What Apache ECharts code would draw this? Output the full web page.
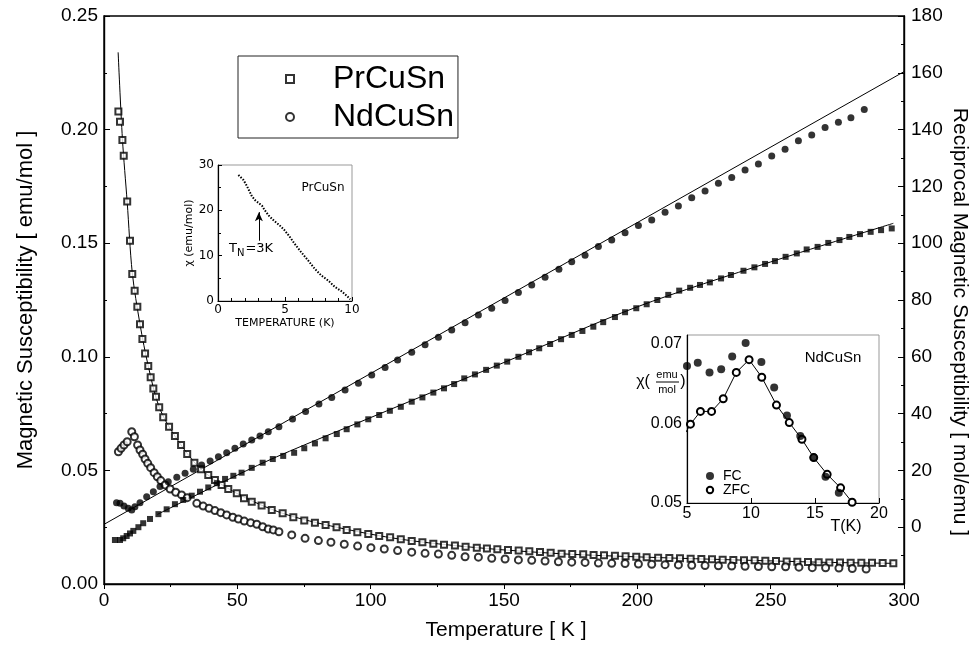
<!DOCTYPE html>
<html>
<head>
<meta charset="utf-8">
<style>
  html, body { margin: 0; padding: 0; background: #fff; }
  #main { width: 975px; height: 649px; }
</style>
</head>
<body>
<div id="main"></div>
<script src="https://cdn.jsdelivr.net/npm/echarts@6/dist/echarts.min.js"></script>
<script>
  // main plot: [T (K), chi (emu/mol)] on left axis
  var prChi = [
    [5.4, 0.208], [6.0, 0.2035], [6.9, 0.1954], [7.4, 0.1885], [8.7, 0.1683], [9.75, 0.1511],
    [10.6, 0.1364], [11.5, 0.1291], [12.5, 0.122], [13.5, 0.1143], [14.4, 0.1078], [15.4, 0.1015],
    [16.6, 0.0959], [17.5, 0.091], [18.5, 0.0861], [19.5, 0.0824], [20.7, 0.0778], [22.2, 0.0734],
    [24.4, 0.0692], [26.6, 0.0651], [28.9, 0.0612], [31.2, 0.0572], [33.9, 0.0534], [36.4, 0.0505],
    [39.1, 0.048], [41.6, 0.0458], [44.1, 0.0436], [46.6, 0.0418], [49.8, 0.0399], [52.5, 0.0377],
    [55.4, 0.0362], [59.1, 0.0345], [62.9, 0.0326], [67.0, 0.0311], [71.0, 0.0294], [75.1, 0.0279],
    [79.1, 0.027], [83.1, 0.026], [87.2, 0.025], [91.0, 0.0238], [95.0, 0.0228], [99.1, 0.022],
    [103.2, 0.0211], [107.3, 0.0206], [111.3, 0.0197], [115.4, 0.0189], [119.4, 0.0184], [123.5, 0.0177],
    [127.5, 0.0173], [131.6, 0.0169], [135.6, 0.0164], [139.8, 0.016], [143.6, 0.0156], [147.5, 0.0153],
    [151.5, 0.015], [155.5, 0.0147], [159.5, 0.0144], [163.5, 0.0141], [167.5, 0.0137], [171.6, 0.0133],
    [175.6, 0.0132], [179.7, 0.0131], [183.6, 0.0128], [187.5, 0.0126], [191.6, 0.0124], [195.6, 0.0122],
    [199.6, 0.012], [203.5, 0.0118], [207.8, 0.0116], [212.0, 0.0114], [216.0, 0.0113], [220.0, 0.0111],
    [224, 0.011], [228, 0.0109], [232, 0.0107], [236, 0.0106], [240, 0.0105], [244, 0.0104],
    [248, 0.0102], [252, 0.0101], [256, 0.0099], [260, 0.0098], [264, 0.0097], [268, 0.0096],
    [272, 0.0095], [276, 0.0095], [280, 0.0094], [284, 0.0093], [288, 0.0093], [292, 0.0092], [296, 0.0091]
  ];
  var prChiFit = [
    [5.3, 0.234], [6.9, 0.196], [8.7, 0.168], [10.6, 0.137], [13.5, 0.1143], [16.6, 0.0959],
    [20.7, 0.0778], [26.6, 0.0651], [36.4, 0.0505], [49.8, 0.0399], [67.0, 0.0311], [87.2, 0.025],
    [111.3, 0.0197], [139.8, 0.016], [171.6, 0.0133], [203.5, 0.0118], [240, 0.0105], [272, 0.0095], [296, 0.0091]
  ];
  var ndChi = [
    [5.4, 0.0582], [6.4, 0.0597], [7.5, 0.0612], [8.7, 0.0626], [10.4, 0.067], [11.4, 0.0648],
    [12.6, 0.0612], [13.5, 0.059], [14.5, 0.0571], [15.4, 0.055], [16.4, 0.0531], [17.5, 0.0512],
    [18.8, 0.049], [20.0, 0.0472], [21.3, 0.0455], [22.9, 0.0436], [24.8, 0.0418], [26.9, 0.0404],
    [29.1, 0.0392], [31.2, 0.038], [34.8, 0.0355], [37.2, 0.0343], [39.4, 0.0333], [41.6, 0.0323],
    [43.8, 0.0314], [46.0, 0.0304], [48.3, 0.0294], [50.4, 0.0286], [52.6, 0.0277], [55.0, 0.027],
    [57.3, 0.0263], [59.5, 0.0252], [61.6, 0.0242], [63.5, 0.0238], [65.6, 0.023], [70.4, 0.0216],
    [75.4, 0.0201], [80.4, 0.0191], [85.1, 0.0184], [90.1, 0.0175], [95.1, 0.0167], [100.1, 0.016],
    [105.1, 0.0154], [110.1, 0.0147], [115.4, 0.014], [120.4, 0.0135], [125.4, 0.0132], [130.4, 0.0126],
    [135.4, 0.012], [140.4, 0.0118], [145.4, 0.0113], [150.4, 0.011], [155.4, 0.0106], [160.4, 0.0104],
    [165.4, 0.0101], [170.4, 0.0098], [175.4, 0.0096], [180.4, 0.0095], [185.4, 0.0092], [190.4, 0.0091],
    [195.4, 0.009], [200.4, 0.0088], [205.4, 0.0087], [210.4, 0.0085], [215.4, 0.0084], [220.4, 0.0082],
    [225.4, 0.0081], [230.4, 0.008], [235.4, 0.0079], [240.4, 0.0078], [245.4, 0.0077], [250.4, 0.0076],
    [255.6, 0.0076], [260.6, 0.0074], [265.6, 0.0072], [270.6, 0.0071], [275.6, 0.007], [280.6, 0.0068], [285.8, 0.0066]
  ];

  // main plot: [T (K), 1/chi (mol/emu)] on right axis
  var prInv = [
    [4.1, -4.5], [6.0, -4.5], [7.2, -3.9], [8.5, -3.1], [9.75, -2.2], [11.0, -1.3], [12.9, 0],
    [14.7, 1.4], [17.25, 2.9], [20.4, 4.6], [23.5, 6.3], [26.6, 8.1], [29.7, 9.6], [32.9, 11.1],
    [36.0, 12.5], [39.1, 14], [42.3, 15.5], [45.4, 17], [48.5, 18.1], [51.6, 19.2], [55.4, 20.9],
    [59.5, 22.7], [63.3, 24.0], [67.2, 25.1], [71.3, 26.2], [75.1, 27.8], [79.1, 29.5], [83.1, 31.3],
    [87.3, 32.8], [91.0, 34.5], [95.0, 36.2], [99.1, 38], [103.2, 39.5], [107.2, 41], [111.3, 42.4],
    [115.4, 44.2], [119.4, 45.7], [123.5, 47.4], [127.5, 48.9], [131.3, 50.4], [135.1, 52.4], [139.1, 53.8],
    [143.3, 55.4], [147.3, 56.9], [151.2, 58.3], [155.4, 60], [159.4, 61.6], [163.2, 63], [167.3, 64.5],
    [171.4, 66.2], [175.4, 67.7], [179.4, 69.1], [183.5, 70.6], [187.2, 72.2], [191.6, 74.0], [195.4, 75.7],
    [199.6, 77.1], [203.5, 78.5], [207.5, 80], [211.6, 81.8], [215.7, 83.3], [219.8, 84.3], [223.5, 85.3],
    [227.2, 86.2], [231.4, 87.6], [235.1, 88.8], [239.8, 90.3], [243.9, 91.5], [247.9, 92.7], [251.6, 93.7],
    [255.6, 95.2], [259.8, 96.4], [263.5, 97.8], [267.6, 98.7], [271.6, 100.1], [275.8, 101.1], [279.5, 102.2],
    [283.5, 103.2], [287.5, 104], [291.4, 104.6], [295.4, 105.2]
  ];
  var prInvFit = [[20, 4.5], [60, 22.8], [100, 38.6], [150, 58.0], [200, 77.6], [250, 93.4], [296, 107]];
  var ndInv = [
    [4.7, 8.6], [6.0, 8.4], [7.5, 7.5], [9.1, 6.7], [10.4, 6.1], [11.6, 7.2], [13.5, 8.6], [16.0, 10.7],
    [18.5, 12.5], [21.0, 14.3], [24.1, 16], [27.3, 17.6], [30.4, 19], [33.5, 20.4], [36.6, 21.9],
    [39.8, 23.3], [42.9, 24.8], [46.0, 26.2], [49.1, 27.8], [52.2, 29.3], [55.4, 30.7], [58.5, 32.1],
    [61.6, 33.6], [65.6, 35.4], [70.7, 38.1], [75.6, 40.7], [80.6, 43.4], [85.4, 45.7], [90.4, 48.3],
    [95.4, 50.7], [100.4, 53.6], [105.4, 56.2], [110.1, 58.9], [115.4, 61.6], [120.4, 64.2], [125.4, 66.9],
    [130.4, 69.4], [135.4, 72], [140.4, 74.7], [145.4, 77.1], [150.4, 79.8], [155.4, 82.6], [160.4, 85.3],
    [165.4, 88], [170.6, 90.8], [175.4, 93.5], [180.4, 95.8], [185.4, 98.8], [190.4, 101.1], [195.4, 103.7],
    [200.4, 106.2], [205.4, 108.2], [210.4, 110.9], [215.4, 113.1], [220.4, 116], [225.4, 118.4],
    [230.4, 121.1], [235.4, 123.1], [240.4, 125.8], [245.4, 127.9], [250.4, 130.7], [255.4, 133.1],
    [260.4, 136.1], [265.4, 138.1], [270.4, 140.7], [275.4, 142.6], [280.1, 144.2], [285.1, 147.1]
  ];
  var ndInvFit = [[0, 1.0], [300, 160.4]];

  // inset PrCuSn: [T (K), chi (emu/mol)]
  var prLowT = [
    [1.52, 27.8], [1.9, 26.7], [2.15, 25.4], [2.33, 24.3], [2.53, 23.1], [2.78, 22.2], [3.04, 21.6],
    [3.29, 21.0], [3.47, 20.1], [3.8, 18.8], [4.18, 17.7], [4.56, 16.8], [4.94, 15.7], [5.32, 14.3],
    [5.7, 12.7], [6.2, 10.8], [6.71, 9.0], [7.22, 7.1], [7.72, 5.6], [8.23, 4.5], [8.73, 3.1],
    [9.24, 2.1], [9.62, 1.1], [9.87, 0.4]
  ];
  var tnArrow = [[3.05, 13.3], [3.05, 19.6]];

  // inset NdCuSn: [T (K), chi (emu/mol)]
  var ndFC = [
    [5.0, 0.0672], [5.84, 0.0676], [6.76, 0.0664], [7.67, 0.0668], [8.53, 0.0684], [9.58, 0.0701],
    [10.81, 0.0677], [11.81, 0.0645], [12.81, 0.061], [13.85, 0.0584], [14.9, 0.0557], [15.82, 0.0533], [16.86, 0.0513]
  ];
  var ndZFC = [
    [4.92, 0.0589], [5.27, 0.0599], [6.05, 0.0615], [6.92, 0.0615], [7.83, 0.0631], [8.85, 0.0664],
    [9.85, 0.068], [10.84, 0.0658], [11.99, 0.0623], [12.99, 0.0601], [13.98, 0.058], [14.9, 0.0557],
    [15.95, 0.0536], [17.0, 0.0519], [17.9, 0.0501]
  ];

  var FONT = '"Liberation Sans", Arial, sans-serif';
  var INSET_FONT = '"DejaVu Sans", sans-serif';

  var chartDom = document.getElementById('main');
  var myChart = echarts.init(chartDom);
  var option;

  var blackLine = { lineStyle: { color: '#000', width: 1.4 } };

  option = {
    backgroundColor: '#fff',
    animation: false,
    textStyle: { fontFamily: FONT, color: '#000' },
    legend: [
      {
        data: ['PrCuSn', 'NdCuSn'],
        left: 238,
        top: 56,
        orient: 'vertical',
        padding: [7, 4, 5, 47],
        itemGap: 6,
        itemWidth: 8,
        itemHeight: 8,
        borderColor: '#222',
        borderWidth: 1,
        selectedMode: false,
        textStyle: { fontFamily: FONT, fontSize: 32, lineHeight: 32, color: '#000', padding: [0, 0, 0, 34] },
      },
      {
        data: ['FC', 'ZFC'],
        left: 705,
        top: 469,
        orient: 'vertical',
        padding: 0,
        itemGap: 0,
        itemWidth: 8,
        itemHeight: 8,
        selectedMode: false,
        textStyle: { fontFamily: FONT, fontSize: 14, lineHeight: 14, color: '#000', padding: [0, 0, 0, 4] },
      },
    ],
    grid: [
      { left: 104, right: 71, top: 16, bottom: 65, show: true, borderColor: '#000', borderWidth: 1.4 },
      { left: 218, top: 165, width: 134, height: 136, show: true, borderColor: '#999', borderWidth: 1, backgroundColor: '#fff' },
      { left: 687, top: 335, width: 192, height: 168, show: true, borderColor: '#999', borderWidth: 1, backgroundColor: '#fff' },
    ],
    xAxis: [
      {
        gridIndex: 0, type: 'value', min: 0, max: 300, interval: 50,
        axisLine: blackLine,
        axisTick: { length: 5, lineStyle: { color: '#000' } },
        minorTick: { show: true, splitNumber: 2, length: 3, lineStyle: { color: '#000' } },
        splitLine: { show: false },
        axisLabel: { fontSize: 19, color: '#000', margin: 7, fontFamily: FONT },
      },
      {
        gridIndex: 1, type: 'value', min: 0, max: 10, interval: 5,
        axisLine: { lineStyle: { color: '#000', width: 1.2 } },
        axisTick: { inside: true, length: 4, lineStyle: { color: '#000' } },
        minorTick: { show: true, splitNumber: 5, length: 3, lineStyle: { color: '#000' } },
        splitLine: { show: false },
        axisLabel: { fontSize: 12, color: '#000', margin: 3, fontFamily: INSET_FONT },
        name: 'TEMPERATURE (K)', nameLocation: 'middle', nameGap: 17,
        nameTextStyle: { fontSize: 11, fontFamily: INSET_FONT, color: '#000' },
      },
      {
        gridIndex: 2, type: 'value', min: 5, max: 20, interval: 5,
        axisLine: { lineStyle: { color: '#000', width: 1.2 } },
        axisTick: { inside: true, length: 5, lineStyle: { color: '#000' } },
        splitLine: { show: false },
        axisLabel: { fontSize: 16, color: '#000', margin: 3, fontFamily: FONT },
      },
    ],
    yAxis: [
      {
        gridIndex: 0, type: 'value', min: 0, max: 0.25, interval: 0.05,
        axisLine: blackLine,
        axisTick: { inside: true, length: 6, lineStyle: { color: '#000' } },
        minorTick: { show: true, splitNumber: 2, length: 3, lineStyle: { color: '#000' } },
        splitLine: { show: false },
        axisLabel: { fontSize: 19, color: '#000', margin: 6, fontFamily: FONT, formatter: function (v) { return v.toFixed(2); } },
      },
      {
        gridIndex: 0, type: 'value', position: 'right', min: -20, max: 180, interval: 20,
        axisLine: blackLine,
        axisTick: { inside: true, length: 6, lineStyle: { color: '#000' } },
        minorTick: { show: true, splitNumber: 2, length: 3, lineStyle: { color: '#000' } },
        splitLine: { show: false },
        axisLabel: { fontSize: 19, color: '#000', margin: 7, fontFamily: FONT, formatter: function (v) { return v < 0 ? '' : v; } },
      },
      {
        gridIndex: 1, type: 'value', min: 0, max: 30, interval: 10,
        axisLine: { lineStyle: { color: '#000', width: 1.2 } },
        axisTick: { inside: true, length: 4, lineStyle: { color: '#000' } },
        minorTick: { show: true, splitNumber: 2, length: 3, lineStyle: { color: '#000' } },
        splitLine: { show: false },
        axisLabel: { fontSize: 12, color: '#000', margin: 4, fontFamily: INSET_FONT },
        name: 'χ (emu/mol)', nameLocation: 'middle', nameGap: 22,
        nameTextStyle: { fontSize: 11, fontFamily: INSET_FONT, color: '#000' },
      },
      {
        gridIndex: 2, type: 'value', min: 0.05, max: 0.0711, interval: 0.01,
        axisLine: { lineStyle: { color: '#000', width: 1.2 } },
        axisTick: { show: false },
        splitLine: { show: false },
        axisLabel: { fontSize: 16, color: '#000', margin: 5, fontFamily: FONT, showMaxLabel: false,
          formatter: function (v) { return v.toFixed(2); } },
      },
    ],
    series: [
      {
        name: 'PrCuSn', type: 'scatter', xAxisIndex: 0, yAxisIndex: 0, data: prChi,
        symbol: 'emptyRect', symbolSize: 6,
        itemStyle: { color: '#000', borderColor: '#000', borderWidth: 0.9 }, z: 4,
      },
      {
        name: 'NdCuSn', type: 'scatter', xAxisIndex: 0, yAxisIndex: 0, data: ndChi,
        symbol: 'emptyCircle', symbolSize: 7,
        itemStyle: { color: '#000', borderColor: '#000', borderWidth: 0.9 }, z: 4,
      },
      {
        type: 'line', xAxisIndex: 0, yAxisIndex: 0, data: prChiFit, showSymbol: false, smooth: 0.3,
        lineStyle: { color: '#000', width: 1 }, z: 3,
      },
      {
        type: 'scatter', xAxisIndex: 0, yAxisIndex: 1, data: prInv,
        symbol: 'rect', symbolSize: 6, itemStyle: { color: '#000' }, z: 4,
      },
      {
        type: 'scatter', xAxisIndex: 0, yAxisIndex: 1, data: ndInv,
        symbol: 'circle', symbolSize: 7, itemStyle: { color: '#000' }, z: 4,
      },
      {
        type: 'line', xAxisIndex: 0, yAxisIndex: 1, data: prInvFit, showSymbol: false, smooth: 0.3,
        lineStyle: { color: '#000', width: 1 }, z: 3,
      },
      {
        type: 'line', xAxisIndex: 0, yAxisIndex: 1, data: ndInvFit, showSymbol: false,
        lineStyle: { color: '#000', width: 1 }, z: 3,
      },
      {
        type: 'line', xAxisIndex: 1, yAxisIndex: 2, data: prLowT, showSymbol: false,
        lineStyle: { color: '#000', width: 2, type: [1.5, 1.5] }, z: 5,
        markLine: {
          silent: true, symbol: ['none', 'arrow'], symbolSize: [6, 9],
          label: { show: false },
          lineStyle: { color: '#000', width: 1, type: 'solid' },
          data: [[{ coord: tnArrow[0] }, { coord: tnArrow[1] }]],
        },
      },
      {
        name: 'FC', type: 'scatter', xAxisIndex: 2, yAxisIndex: 3, data: ndFC,
        symbol: 'circle', symbolSize: 8, itemStyle: { color: '#000' }, z: 6,
      },
      {
        name: 'ZFC', type: 'line', xAxisIndex: 2, yAxisIndex: 3, data: ndZFC,
        symbol: 'emptyCircle', symbolSize: 7, showAllSymbol: true,
        lineStyle: { color: '#000', width: 1 },
        itemStyle: { color: '#000', borderColor: '#000', borderWidth: 1 }, z: 5,
      },
    ],
    graphic: [
      {
        type: 'text', x: 26, y: 300, rotation: Math.PI / 2, z: 100,
        style: { text: 'Magnetic Susceptibility [ emu/mol ]', font: '22px ' + FONT, fill: '#000', align: 'center', verticalAlign: 'middle' },
      },
      {
        type: 'text', x: 960, y: 322, rotation: -Math.PI / 2, z: 100,
        style: { text: 'Reciprocal Magnetic Susceptibility [ mol/emu ]', font: '21px ' + FONT, fill: '#000', align: 'center', verticalAlign: 'middle' },
      },
      {
        type: 'text', x: 506, y: 630, z: 100,
        style: { text: 'Temperature [ K ]', font: '21px ' + FONT, fill: '#000', align: 'center', verticalAlign: 'middle' },
      },
      {
        type: 'text', x: 323, y: 188, z: 100,
        style: { text: 'PrCuSn', font: '12px ' + INSET_FONT, fill: '#000', align: 'center', verticalAlign: 'middle' },
      },
      {
        type: 'text', x: 229, y: 249, z: 100,
        style: {
          text: '{a|T}{s|N}{a|=3K}', fill: '#000', verticalAlign: 'middle',
          rich: {
            a: { fontSize: 13, fontFamily: INSET_FONT, verticalAlign: 'middle' },
            s: { fontSize: 10, fontFamily: INSET_FONT, padding: [8, 1, 0, 0] },
          },
        },
      },
      {
        type: 'text', x: 833, y: 358, z: 100,
        style: { text: 'NdCuSn', font: '15px ' + FONT, fill: '#000', align: 'center', verticalAlign: 'middle' },
      },
      {
        type: 'text', x: 846, y: 527, z: 100,
        style: { text: 'T(K)', font: '16px ' + FONT, fill: '#000', align: 'center', verticalAlign: 'middle' },
      },
      {
        type: 'text', x: 643, y: 382, z: 100,
        style: { text: 'χ(', font: '16px ' + FONT, fill: '#000', align: 'center', verticalAlign: 'middle' },
      },
      {
        type: 'text', x: 667, y: 375, z: 100,
        style: { text: 'emu', font: '11px ' + FONT, fill: '#000', align: 'center', verticalAlign: 'middle' },
      },
      {
        type: 'line', z: 100, shape: { x1: 656, y1: 382, x2: 679, y2: 382 },
        style: { stroke: '#000', lineWidth: 1 },
      },
      {
        type: 'text', x: 667, y: 390, z: 100,
        style: { text: 'mol', font: '11px ' + FONT, fill: '#000', align: 'center', verticalAlign: 'middle' },
      },
      {
        type: 'text', x: 683, y: 382, z: 100,
        style: { text: ')', font: '16px ' + FONT, fill: '#000', align: 'center', verticalAlign: 'middle' },
      },
    ],
  };

  option && myChart.setOption(option);

  window.onresize = function () {
    myChart.resize();
  };
</script>
</body>
</html>
